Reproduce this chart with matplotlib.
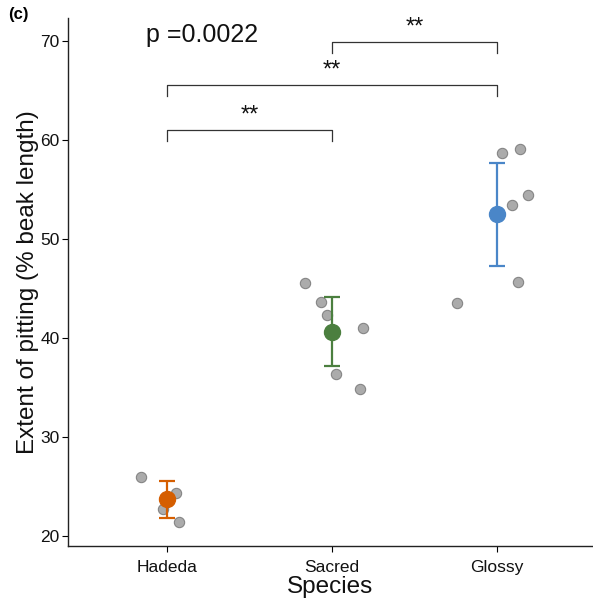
import matplotlib
matplotlib.use("Agg")
import matplotlib.pyplot as plt
import numpy as np

plt.rcParams['font.family'] = ['Liberation Sans', 'DejaVu Sans']

species = ["Hadeda", "Sacred", "Glossy"]
colors = ["#D55E00", "#4B7F3F", "#4A86C8"]

# individual observations (value, jitter offset)
hadeda_vals = [26.0, 24.3, 22.7, 21.45]
hadeda_jit = [-0.158, 0.055, -0.024, 0.075]
sacred_vals = [45.5, 43.6, 42.3, 41.0, 36.4, 34.8]
sacred_jit = [-0.164, -0.068, -0.032, 0.186, 0.024, 0.170]
glossy_vals = [58.7, 59.1, 54.4, 53.4, 45.7, 43.5]
glossy_jit = [0.030, 0.141, 0.188, 0.093, 0.125, -0.242]

means = [23.7, 40.6, 52.5]
err_low = [21.8, 37.2, 47.3]
err_high = [25.6, 44.1, 57.7]

# significance brackets: (group i, group j, y level, label)
bracket_pairs = [(1, 2), (1, 3), (2, 3)]
bracket_y = [61.0, 65.5, 69.9]
bracket_labels = ["**", "**", "**"]
p_text = "p =0.0022"

fig = plt.figure(figsize=(5.93, 5.99), dpi=100)
ax = fig.add_axes([68/593, 53/599, (593-68)/593, (546-18)/599])

xs = np.arange(1, 4)
groups = [(hadeda_vals, hadeda_jit), (sacred_vals, sacred_jit), (glossy_vals, glossy_jit)]
for x, (vals, jit) in zip(xs, groups):
    ax.scatter(x + np.array(jit), vals, s=55, facecolor="#ABABAB",
               edgecolor="#858585", linewidth=0.8, zorder=2)

for x, m, lo, hi, c in zip(xs, means, err_low, err_high, colors):
    ax.errorbar([x], [m], yerr=[[m - lo], [hi - m]], fmt='o', color=c,
                markersize=11.5, elinewidth=1.6, capsize=6.0, capthick=1.6, zorder=3)

tick_drop = 1.1
for (i, j), y, lab in zip(bracket_pairs, bracket_y, bracket_labels):
    ax.plot([i, i, j, j], [y - tick_drop, y, y, y - tick_drop], color="#333333",
            linewidth=0.9, zorder=1)
    ax.text((i + j) / 2, y + 0.35, lab, ha='center', va='bottom', fontsize=17, color="#111111")

ax.text(0.87, 70.6, p_text, ha='left', va='center', fontsize=18, color="#111111")

ax.set_xlim(0.4, 0.4 + (593 - 68) / 165)
ax.set_ylim(19.0, 72.3)
ax.set_xticks(xs)
ax.set_xticklabels(species, fontsize=12.5, color="#111111")
ax.set_yticks([20, 30, 40, 50, 60, 70])
ax.tick_params(axis='y', labelsize=12.5, labelcolor="#111111", length=4, width=0.8, pad=2)
ax.tick_params(axis='x', length=4, width=0.8, pad=6)
for s in ['top', 'right']:
    ax.spines[s].set_visible(False)
for s in ['left', 'bottom']:
    ax.spines[s].set_linewidth(1.0)
    ax.spines[s].set_color("#222222")

ax.set_xlabel("Species", fontsize=17.5, color="#111111", labelpad=0.5)
ax.set_ylabel("Extent of pitting (% beak length)", fontsize=17.5, color="#111111")
ax.yaxis.set_label_coords(-0.056, 0.5)

fig.text(0.013, 0.988, "(c)", fontsize=12, fontweight='bold', va='top', ha='left')

fig.savefig("out.png", dpi=100)
